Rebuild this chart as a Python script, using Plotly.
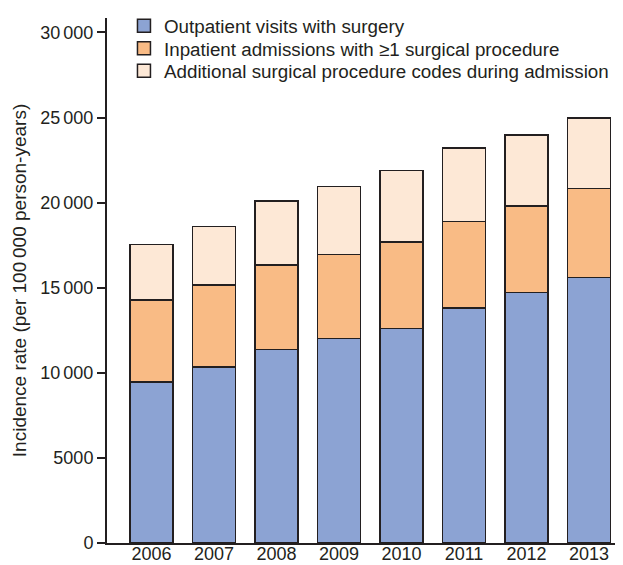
import plotly.graph_objects as go

years = ["2006", "2007", "2008", "2009", "2010", "2011", "2012", "2013"]
outpatient = [9470, 10350, 11380, 12020, 12610, 13820, 14730, 15600]
inpatient_top = [14280, 15160, 16350, 16940, 17690, 18900, 19800, 20840]
total_top = [17530, 18600, 20090, 20960, 21880, 23200, 23980, 24980]
inpatient = [b - a for a, b in zip(outpatient, inpatient_top)]
additional = [c - b for b, c in zip(inpatient_top, total_top)]

names = ["Outpatient visits with surgery",
         "Inpatient admissions with \u22651 surgical procedure",
         "Additional surgical procedure codes during admission"]
colors = ["#8CA3D3", "#F9BB85", "#FDE8D6"]
tickvals = [0, 5000, 10000, 15000, 20000, 25000, 30000]
ticktext = ["0", "5000", "10\u2006000", "15\u2006000", "20\u2006000", "25\u2006000", "30\u2006000"]
EDGE = "#231f20"
legend_ids = ["legend", "legend2", "legend3"]
legend_y = [1.021, 0.978, 0.935]

fig = go.Figure()
for vals, nm, col in zip([outpatient, inpatient, additional], names, colors):
    fig.add_trace(go.Bar(x=years, y=vals, name=nm, showlegend=False,
                         marker=dict(color=col, line=dict(color=EDGE, width=1.5)),
                         width=0.69))
# legend entries with larger square symbols
for nm, col, lid in zip(names, colors, legend_ids):
    fig.add_trace(go.Scatter(x=[None], y=[None], mode="markers", name=nm, legend=lid,
                             marker=dict(symbol="square", size=13, color=col,
                                         line=dict(color=EDGE, width=1.5))))

leg_common = dict(x=0.033, xanchor="left", yanchor="top", bgcolor="rgba(0,0,0,0)",
                  font=dict(size=18.8), itemwidth=30)
fig.update_layout(
    width=615, height=557,
    barmode="stack",
    margin=dict(l=99, r=2, t=10, b=22, autoexpand=False),
    plot_bgcolor="white", paper_bgcolor="white",
    font=dict(family="Liberation Sans, Arial, sans-serif", size=18, color=EDGE),
    showlegend=True,
    legend=dict(y=legend_y[0], **leg_common),
    legend2=dict(y=legend_y[1], **leg_common),
    legend3=dict(y=legend_y[2], **leg_common),
    xaxis=dict(range=[-0.712, 7.512], showline=True, linecolor=EDGE, linewidth=2, ticks="",
               automargin=False, tickfont=dict(size=18), ticklabelstandoff=-7),
    yaxis=dict(range=[0, 30850], showline=True, linecolor=EDGE, linewidth=2, ticks="outside",
               ticklen=8, tickwidth=2, tickcolor=EDGE, tickvals=tickvals, ticktext=ticktext,
               showgrid=False, zeroline=False, automargin=False, tickfont=dict(size=18),
               title=dict(text="Incidence rate (per 100\u2009000 person-years)", font=dict(size=19), standoff=9)),
)
fig.write_html("out.html")
